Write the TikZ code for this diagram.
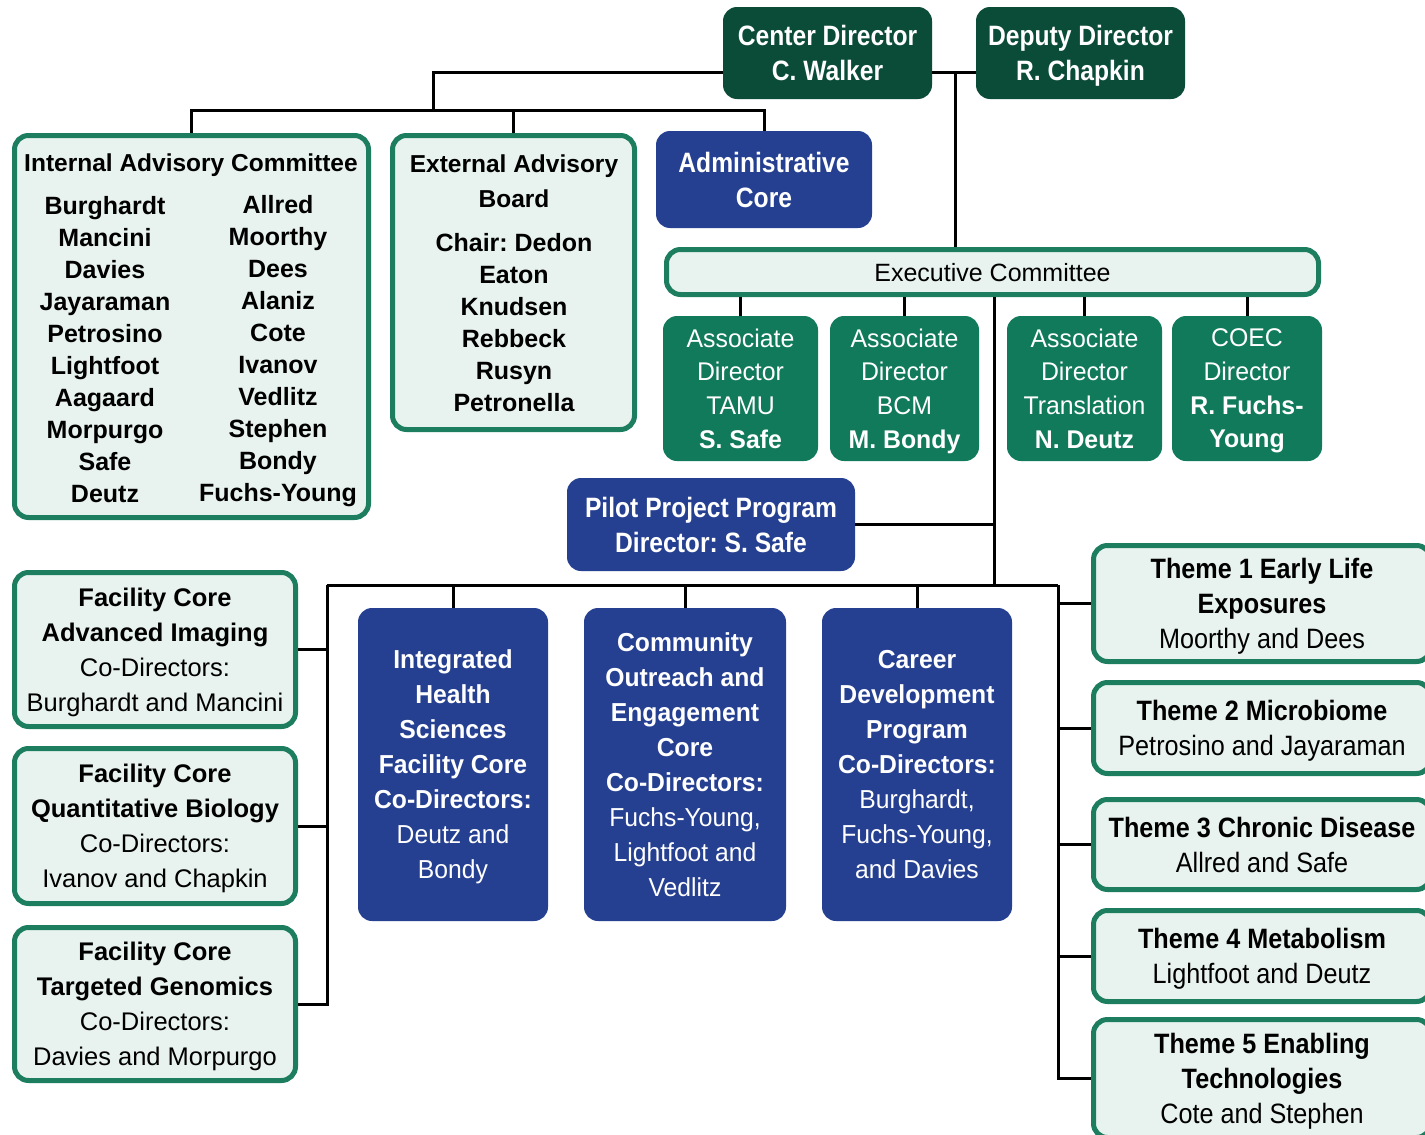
\documentclass[tikz,border=0pt]{standalone}
\usepackage{fontspec}
\setmainfont{Liberation Sans}
\newfontfamily\fA{Liberation Sans}
\newfontfamily\fB{Liberation Sans}[FakeStretch=0.88]
\newfontfamily\fC{Liberation Sans}[FakeStretch=0.97]
\newfontfamily\fD{Liberation Sans}[FakeStretch=0.95]
\newfontfamily\fE{Liberation Sans}[FakeStretch=0.9]
\lineskiplimit=-50pt
\definecolor{darkg}{RGB}{11,76,56}
\definecolor{midg}{RGB}{16,122,90}
\definecolor{borderg}{RGB}{28,125,95}
\definecolor{lightf}{RGB}{232,243,239}
\definecolor{blueC}{RGB}{38,64,145}
\tikzset{
  base/.style={align=center, inner sep=0pt, text depth=0pt},
  dkbox/.style={base, rounded corners=14pt, fill=darkg, text=white, font={\fB\bfseries\fontsize{28}{35}\selectfont}},
  lgbox/.style={base, rounded corners=14pt, fill=lightf, draw=borderg, line width=5pt},
  gnbox/.style={base, rounded corners=14pt, fill=midg, text=white, font={\fC\fontsize{25.6}{33.7}\selectfont\lineskiplimit=-50pt}},
  blbox/.style={base, rounded corners=14pt, fill=blueC, text=white},
  bigblue/.style={blbox, font={\fD\fontsize{26}{35}\selectfont\lineskiplimit=-50pt}},
  advtext/.style={base, font={\fA\bfseries\fontsize{25}{32}\selectfont}},
  factext/.style={font={\fA\fontsize{25.5}{35}\selectfont}},
  themetext/.style={font={\fE\fontsize{28}{35}\selectfont}},
  conn/.style={line width=3pt, black}
}
\begin{document}
\frenchspacing
\begin{tikzpicture}[x=1pt, y=-1pt]
\useasboundingbox (0,0) rectangle (1425,1135);
\fill[white] (0,0) rectangle (1425,1135);
\clip (0,0) rectangle (1425,1135);

% top directors
\node[dkbox, minimum width=209, minimum height=92] (cdir) at (827.5,53) {Center Director\\C. Walker};
\node[dkbox, minimum width=209, minimum height=92] (ddir) at (1080.5,53) {Deputy Director\\R. Chapkin};

% advisory
\node[lgbox, minimum width=354, minimum height=382] (iac) at (191.5,326.5) {};
\node[advtext, font={\fA\bfseries\fontsize{24.5}{32}\selectfont}] (iacT) at (191,162.5) {Internal Advisory Committee};
\node[advtext] (iacL) at (105,349) {Burghardt\\Mancini\\Davies\\Jayaraman\\Petrosino\\Lightfoot\\Aagaard\\Morpurgo\\Safe\\Deutz};
\node[advtext] (iacR) at (278,348.5) {Allred\\Moorthy\\Dees\\Alaniz\\Cote\\Ivanov\\Vedlitz\\Stephen\\Bondy\\Fuchs-Young};

\node[lgbox, minimum width=242, minimum height=294] (ext) at (513.5,282.5) {};
\node[advtext, font={\fA\bfseries\fontsize{24.5}{35}\selectfont}] (extT) at (514,181) {External Advisory\\Board};
\node[advtext] (extL) at (514,322) {Chair: Dedon\\Eaton\\Knudsen\\Rebbeck\\Rusyn\\Petronella};

\node[blbox, font={\fB\bfseries\fontsize{28}{35}\selectfont}, minimum width=216, minimum height=97] (adm) at (764,179.5) {Administrative\\Core};

% executive committee
\node[lgbox, font={\fA\fontsize{25}{30}\selectfont}, minimum width=652, minimum height=45] (ec) at (992.5,272) {Executive Committee};

\node[gnbox, minimum width=155, minimum height=145] (a1) at (740.5,388.5) {Associate\\Director\\TAMU\\\textbf{S. Safe}};
\node[gnbox, minimum width=149, minimum height=145] (a2) at (904.5,388.5) {Associate\\Director\\BCM\\\textbf{M. Bondy}};
\node[gnbox, minimum width=155, minimum height=145] (a3) at (1084.5,388.5) {Associate\\Director\\Translation\\\textbf{N. Deutz}};
\node[gnbox, minimum width=150, minimum height=145] (a4) at (1247,388.5) {COEC\\Director\\\textbf{R. Fuchs-}\\\textbf{Young}};

\node[blbox, font={\fB\bfseries\fontsize{28}{35}\selectfont}, minimum width=288, minimum height=93] (pilot) at (711,524.5) {Pilot Project Program\\Director: S. Safe};

% facility cores (left)
\node[lgbox, factext, minimum width=281, minimum height=154] (fc1) at (155,649.5) {\textbf{Facility Core}\\\textbf{Advanced Imaging}\\Co-Directors:\\Burghardt and Mancini};
\node[lgbox, factext, minimum width=281, minimum height=155] (fc2) at (155,826) {\textbf{Facility Core}\\\textbf{Quantitative Biology}\\Co-Directors:\\Ivanov and Chapkin};
\node[lgbox, factext, minimum width=281, minimum height=153] (fc3) at (155,1004) {\textbf{Facility Core}\\\textbf{Targeted Genomics}\\Co-Directors:\\Davies and Morpurgo};

% blue programs
\node[bigblue, minimum width=190, minimum height=313] (ihs) at (453,764.5) {\textbf{Integrated}\\\textbf{Health}\\\textbf{Sciences}\\\textbf{Facility Core}\\\textbf{Co-Directors:}\\Deutz and\\Bondy};
\node[bigblue, minimum width=202, minimum height=313] (coe) at (685,764.5) {\textbf{Community}\\\textbf{Outreach and}\\\textbf{Engagement}\\\textbf{Core}\\\textbf{Co-Directors:}\\Fuchs-Young,\\Lightfoot and\\Vedlitz};
\node[bigblue, minimum width=190, minimum height=313] (car) at (917,764.5) {\textbf{Career}\\\textbf{Development}\\\textbf{Program}\\\textbf{Co-Directors:}\\Burghardt,\\Fuchs-Young,\\and Davies};

% themes (right)
\node[lgbox, themetext, minimum width=337, minimum height=116] (t1) at (1262,603.5) {\textbf{Theme 1 Early Life}\\\textbf{Exposures}\\Moorthy and Dees};
\node[lgbox, themetext, minimum width=337, minimum height=91] (t2) at (1262,728) {\textbf{Theme 2 Microbiome}\\Petrosino and Jayaraman};
\node[lgbox, themetext, minimum width=337, minimum height=90] (t3) at (1262,844.5) {\textbf{Theme 3 Chronic Disease}\\Allred and Safe};
\node[lgbox, themetext, minimum width=337, minimum height=91] (t4) at (1262,956) {\textbf{Theme 4 Metabolism}\\Lightfoot and Deutz};
\node[lgbox, themetext, minimum width=337, minimum height=118] (t5) at (1262,1078.5) {\textbf{Theme 5 Enabling}\\\textbf{Technologies}\\Cote and Stephen};

% junction coordinates
\coordinate (j1) at (955,72);
\coordinate (j2) at (433,110);
\coordinate (j3) at (994,585);
\coordinate (jl) at (327,585);
\coordinate (jr) at (1058,585);

% connectors
\draw[conn] (cdir.east |- j1) -- (ddir.west |- j1);
\draw[conn] (j1) -- (j1 |- ec.north);
\draw[conn] (cdir.west |- j1) -| (j2);
\draw[conn] (iac.north) |- (adm.north |- j2) -- (adm.north);
\draw[conn] (ext.north) -- (ext.north |- j2);

\foreach \n in {a1,a2,a3,a4} { \draw[conn] (ec.south -| \n) -- (\n.north); }
\draw[conn] (ec.south -| j3) -- (j3);
\draw[conn] (pilot.east) -- (pilot.east -| j3);

\draw[conn] (jl) -- (jr);
\foreach \n in {ihs,coe,car} { \draw[conn] (\n.north |- jl) -- (\n.north); }

\draw[conn] (jl) |- (fc3.east);
\draw[conn] (fc1.east) -- (fc1.east -| jl);
\draw[conn] (fc2.east) -- (fc2.east -| jl);

\draw[conn] (jr) |- (t5.west);
\foreach \n in {t1,t2,t3,t4} { \draw[conn] (\n.west) -- (\n.west -| jr); }
\end{tikzpicture}
\end{document}
